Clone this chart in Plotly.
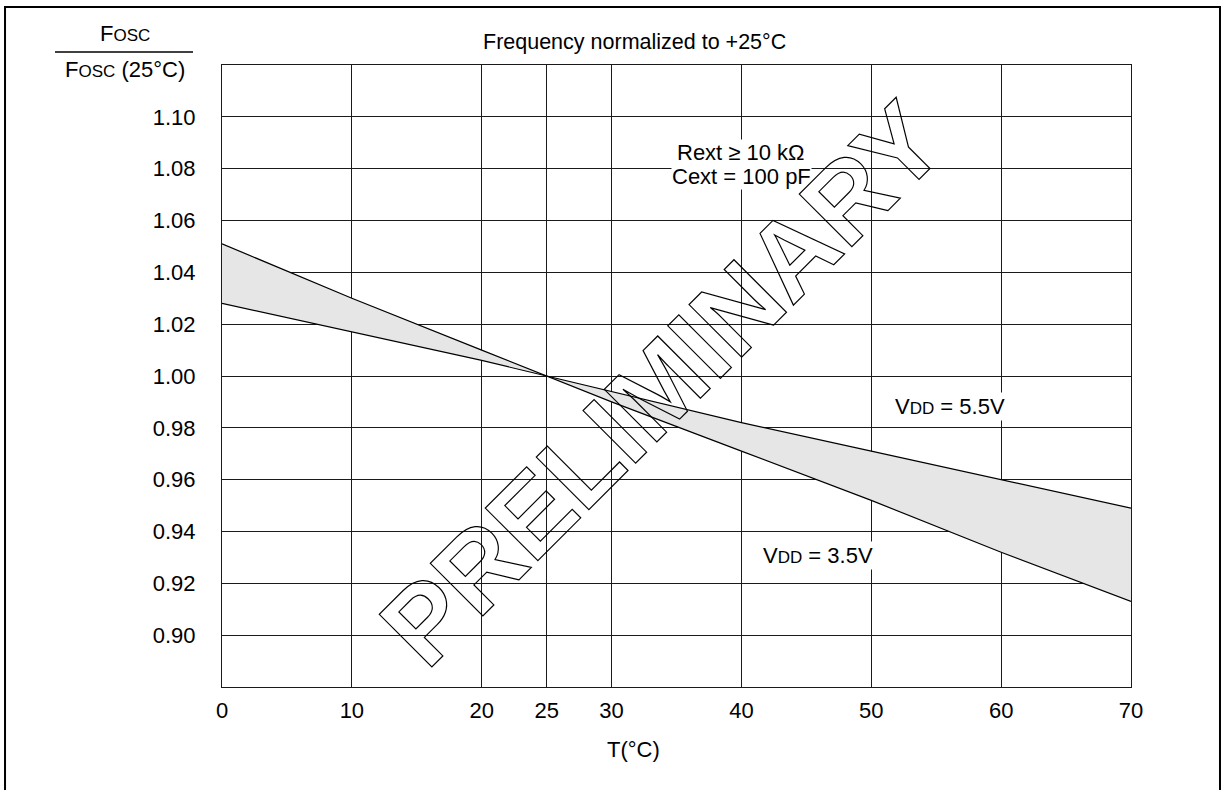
import plotly.graph_objects as go

# temperature points (deg C) and normalized frequency
temps = [0, 10, 20, 25, 30, 40, 50, 60, 70]
vdd_55 = [1.028, 1.017, 1.006, 1.000, 0.994, 0.982, 0.971, 0.960, 0.949]
vdd_35 = [1.051, 1.030, 1.010, 1.000, 0.990, 0.971, 0.952, 0.932, 0.913]

x_ticks = [0, 10, 20, 25, 30, 40, 50, 60, 70]
y_ticks = [0.90, 0.92, 0.94, 0.96, 0.98, 1.00, 1.02, 1.04, 1.06, 1.08, 1.10]
y_labels = ["%.2f" % v for v in y_ticks]

FONT = "Liberation Sans, Arial, sans-serif"

trace_55 = go.Scatter(
    x=temps, y=vdd_55, mode="lines", name="VDD = 5.5V",
    line=dict(color="black", width=1.2),
)
trace_35 = go.Scatter(
    x=temps, y=vdd_35, mode="lines", name="VDD = 3.5V",
    line=dict(color="black", width=1.2),
    fill="tonexty", fillcolor="#e6e6e6",
)

small = "<span style='font-size:17px'>%s</span>"


def label(text, x, y, **kw):
    # centred text placed in paper coordinates
    return dict(text=text, xref="paper", yref="paper", x=x, y=y,
                xanchor="center", yanchor="middle", showarrow=False, **kw)


layout = go.Layout(
    width=1223, height=790,
    margin=dict(l=222, r=92, t=65, b=103),
    paper_bgcolor="white", plot_bgcolor="white",
    font=dict(family=FONT, size=22, color="black"),
    showlegend=False,
    xaxis=dict(
        range=[0, 70], tickvals=x_ticks, showgrid=True,
        gridcolor="#1a1a1a", gridwidth=1.2,
        showline=True, linecolor="#1a1a1a", linewidth=1.2, mirror=True,
        zeroline=False, ticks="", ticklabelstandoff=3,
    ),
    yaxis=dict(
        range=[0.88, 1.12], tickvals=y_ticks, ticktext=y_labels,
        showgrid=True, gridcolor="#1a1a1a", gridwidth=1.2,
        showline=True, linecolor="#1a1a1a", linewidth=1.2, mirror=True,
        zeroline=False, ticks="", ticklabelstandoff=21,
    ),
    annotations=[
        label("Frequency normalized to +25°C", 0.454, 1.037, font=dict(size=21.5)),
        label("F" + small % "OSC", -0.1067, 1.05),
        label("F" + small % "OSC" + " (25°C)", -0.1067, 0.992),
        label("T(°C)", 0.453, -0.101),
        dict(text="Rext ≥ 10 kΩ", x=40, y=1.0861, showarrow=False,
             bgcolor="white", borderpad=0),
        dict(text="Cext = 100 pF", x=40, y=1.0769, showarrow=False,
             bgcolor="white", borderpad=0),
        dict(text="V" + small % "DD" + " = 5.5V", x=56.06, y=0.9882,
             showarrow=False, bgcolor="white"),
        dict(text="V" + small % "DD" + " = 3.5V", x=45.9, y=0.9308,
             showarrow=False, bgcolor="white"),
        dict(text="<b>PRELIMINARY</b>", x=33.9, y=0.9970, showarrow=False,
             textangle=-45,
             font=dict(size=108, family=FONT, color="white", weight="bold")),
    ],
    shapes=[
        # fraction bar of the y label
        dict(type="line", xref="paper", yref="paper",
             x0=-0.1837, x1=-0.0319, y0=1.0209, y1=1.0209,
             line=dict(color="black", width=1.5)),
        # outer frame
        dict(type="rect", xref="paper", yref="paper",
             x0=-0.2387, x1=1.0979, y0=-0.1817, y1=1.0932,
             line=dict(color="black", width=2)),
    ],
)

fig = go.Figure(data=[trace_55, trace_35], layout=layout)

# no page margin, and draw the watermark as hollow outlined letters
hollow = """
document.body.style.margin = '0';
var gd = document.getElementById('{plot_id}');
gd.querySelectorAll('.annotation-text').forEach(function (t) {
    if (t.textContent === 'PRELIMINARY') {
        t.style.fill = 'none';
        t.style.stroke = '#000';
        t.style.strokeWidth = '1.2px';
        t.querySelectorAll('tspan').forEach(function (s) {
            s.style.fill = 'none';
        });
    }
});
"""

fig.write_html("out.html", post_script=hollow, config={"displayModeBar": False})
